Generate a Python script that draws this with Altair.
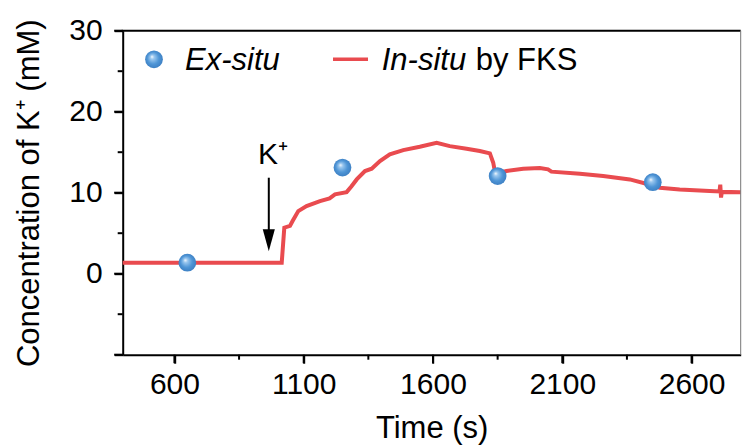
import altair as alt
import pandas as pd

# ---- data ----
insitu_t = [400, 1015, 1025, 1047, 1057, 1079, 1111, 1163, 1200, 1221, 1266, 1285, 1305,
            1337, 1363, 1395, 1433, 1485, 1549, 1614, 1665, 1730, 1781, 1820, 1833, 1839,
            1850, 1884, 1949, 2013, 2045, 2058, 2168, 2258, 2361, 2425, 2477, 2554, 2670,
            2708, 2711, 2714, 2717, 2790]
insitu_v = [1.36, 1.36, 5.68, 5.9, 6.5, 7.73, 8.35, 8.96, 9.3, 9.79, 10.07, 10.8, 11.64,
            12.67, 12.96, 13.9, 14.73, 15.26, 15.68, 16.17, 15.75, 15.43, 15.14, 14.85, 13.7, 12.67,
            12.4, 12.67, 12.96, 13.05, 12.88, 12.6, 12.35, 12.05, 11.64, 11.11, 10.62, 10.4, 10.2,
            10.15, 11.0, 9.4, 10.1, 10.05]

exsitu_t = [650, 1250, 1850, 2450]
exsitu_v = [1.36, 13.1, 12.05, 11.3]

x_ticks = [600, 1100, 1600, 2100, 2600]
x_minor = [850, 1350, 1850, 2350]
y_ticks = [-10, 0, 10, 20, 30]
y_minor = [-5, 5, 15, 25]

arrow_t = [965]
arrow_top = [11.85]
arrow_bottom = [5.2]
arrow_head = [4.13]
k_label_t = [923]
k_label_v = [13.5]

X_DOMAIN = [400, 2790]
Y_DOMAIN = [-10, 30]

W, H = 618, 324
FONT = "Liberation Sans"
RED = "#e94b4f"
TICK = 8.5

line_df = pd.DataFrame({"t": insitu_t, "v": insitu_v})
dot_df = pd.DataFrame({"t": exsitu_t, "v": exsitu_v})
xmajor_df = pd.DataFrame({"t": x_ticks})
ymajor_df = pd.DataFrame({"v": y_ticks})
xminor_df = pd.DataFrame({"t": x_minor})
yminor_df = pd.DataFrame({"v": y_minor})
shaft_df = pd.DataFrame({"t": arrow_t, "v": arrow_top, "v2": arrow_bottom})
head_df = pd.DataFrame({"t": arrow_t, "v": arrow_head})
klabel_df = pd.DataFrame({"t": k_label_t, "v": k_label_v, "txt": ["K\u207a"]})
one = pd.DataFrame({"a": [0]})

xs = alt.Scale(domain=X_DOMAIN, nice=False, zero=False)
ys = alt.Scale(domain=Y_DOMAIN, nice=False, zero=False)

x_axis = alt.Axis(values=x_ticks, format="d", title="Time (s)", grid=False, ticks=True,
                  tickSize=TICK, tickWidth=2, tickColor="black", domainColor="black",
                  domainWidth=2, labelFontSize=30, labelFont=FONT, labelColor="black",
                  labelPadding=6, titleFont=FONT, titleFontSize=31, titleFontWeight="normal",
                  titleColor="black", titlePadding=14)
y_axis = alt.Axis(values=y_ticks, title="Concentration of K\u207a (mM)", grid=False, ticks=True,
                  tickSize=TICK, tickWidth=2, tickColor="black", domainColor="black",
                  domainWidth=2, labelFontSize=30, labelFont=FONT, labelColor="black",
                  labelPadding=12, labelExpr="datum.value < 0 ? '' : datum.label",
                  titleFont=FONT, titleFontSize=31, titleFontWeight="normal",
                  titleColor="black", titlePadding=23)

X = alt.X("t:Q", scale=xs, axis=x_axis)
Y = alt.Y("v:Q", scale=ys, axis=y_axis)

line = alt.Chart(line_df).mark_line(color=RED, strokeWidth=4).encode(x=X, y=Y)

grad = alt.RadialGradient(
    gradient="radial",
    stops=[alt.GradientStop(color="#ffffff", offset=0.0),
           alt.GradientStop(color="#9cc8ef", offset=0.2),
           alt.GradientStop(color="#4e95d6", offset=0.6),
           alt.GradientStop(color="#3a7cc0", offset=1.0)],
    x1=0.38, y1=0.35, r1=0.0, x2=0.5, y2=0.5, r2=0.55,
)
DOT = 315

dots = alt.Chart(dot_df).mark_point(filled=True, fill=grad, opacity=1, size=DOT, shape="circle",
                                    strokeWidth=0).encode(x=X, y=Y)

# tick marks drawn as rules (major and minor)
xmajor = alt.Chart(xmajor_df).mark_rule(color="black", strokeWidth=2).encode(
    x=X, y=alt.value(H), y2=alt.value(H + TICK))
ymajor = alt.Chart(ymajor_df).mark_rule(color="black", strokeWidth=2).encode(
    y=Y, x=alt.value(-TICK), x2=alt.value(0))
xminor = alt.Chart(xminor_df).mark_rule(color="black", strokeWidth=2).encode(
    x=X, y=alt.value(H), y2=alt.value(H + 5))
yminor = alt.Chart(yminor_df).mark_rule(color="black", strokeWidth=2).encode(
    y=Y, x=alt.value(-5), x2=alt.value(0))

shaft = alt.Chart(shaft_df).mark_rule(color="black", strokeWidth=2).encode(x=X, y=Y, y2="v2:Q")
head = alt.Chart(head_df).mark_point(shape="M-0.55,-1L0.55,-1L0,1Z", filled=True, color="black",
                                     opacity=1, size=484, strokeWidth=0).encode(x=X, y=Y)
klabel = alt.Chart(klabel_df).mark_text(font=FONT, fontSize=30, align="left",
                                        baseline="alphabetic", color="black").encode(
    x=X, y=Y, text="txt:N")

# frame (top black, right gray)
top_border = alt.Chart(one).mark_rule(color="black", strokeWidth=2).encode(
    x=alt.value(-1), x2=alt.value(W), y=alt.value(0))
right_border = alt.Chart(one).mark_rule(color="#777777", strokeWidth=1).encode(
    x=alt.value(W), y=alt.value(0), y2=alt.value(H))

# legend
leg_dot = alt.Chart(one).mark_point(filled=True, fill=grad, opacity=1, size=DOT, shape="circle",
                                    strokeWidth=0).encode(x=alt.value(31.3), y=alt.value(28.6))
leg_t1 = alt.Chart(one).mark_text(font=FONT, fontSize=31, fontStyle="italic", align="left",
                                  baseline="alphabetic", color="black").encode(
    x=alt.value(62.3), y=alt.value(39.5), text=alt.value("Ex-situ"))
leg_line = alt.Chart(one).mark_rule(color=RED, strokeWidth=3.5).encode(
    x=alt.value(210.3), x2=alt.value(245.3), y=alt.value(28.6))
leg_t2 = alt.Chart(one).mark_text(font=FONT, fontSize=31, fontStyle="italic", align="left",
                                  baseline="alphabetic", color="black").encode(
    x=alt.value(259), y=alt.value(39.5), text=alt.value("In-situ"))
leg_t3 = alt.Chart(one).mark_text(font=FONT, fontSize=31, align="left",
                                  baseline="alphabetic", color="black").encode(
    x=alt.value(353), y=alt.value(39.5), text=alt.value("by FKS"))

chart = alt.layer(
    line, dots, xmajor, ymajor, xminor, yminor, shaft, head, klabel, top_border, right_border,
    leg_dot, leg_t1, leg_line, leg_t2, leg_t3,
).properties(
    width=W, height=H,
    autosize=alt.AutoSizeParams(type="none"),
    padding={"left": 122.7, "top": 30.7, "right": 1.3, "bottom": 93.3},
    background="white",
).configure_view(stroke=None)

chart.save("out.html", embed_options={"renderer": "svg", "actions": False})
